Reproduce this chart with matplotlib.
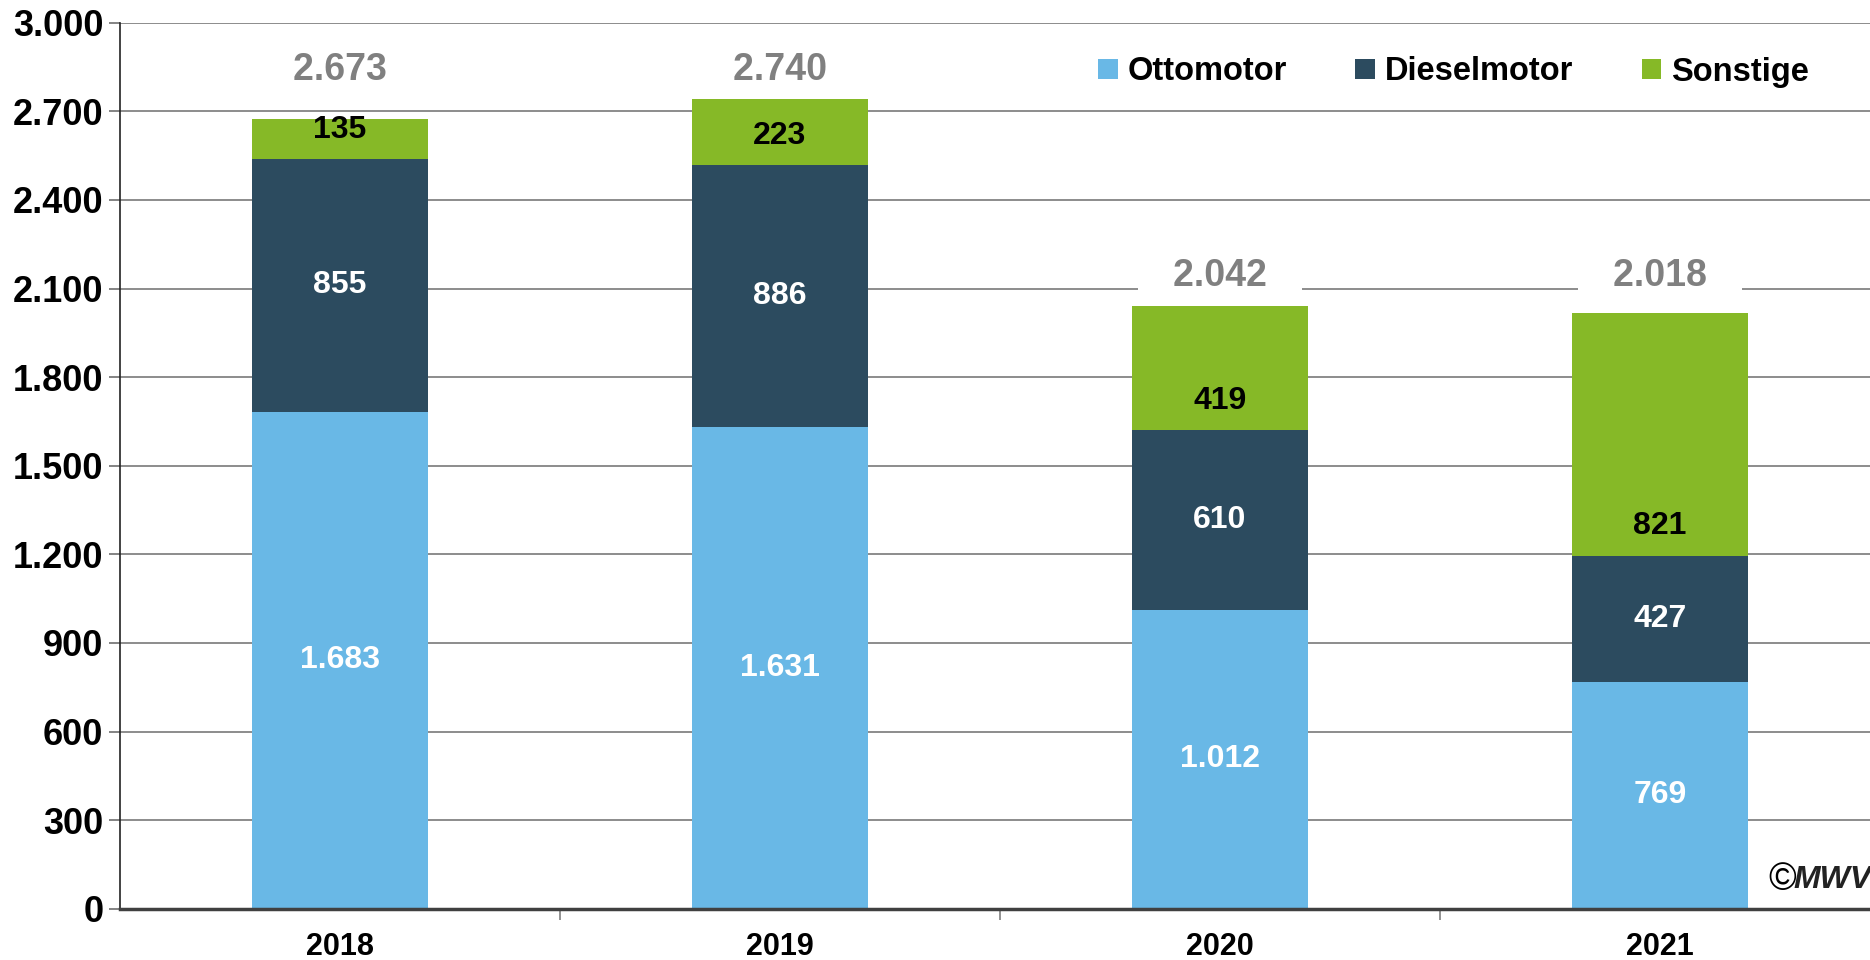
import matplotlib
matplotlib.use("Agg")
import matplotlib.pyplot as plt
from matplotlib.patches import Patch
from matplotlib.ticker import FixedLocator, FuncFormatter

plt.rcParams['font.family'] = ['Liberation Sans', 'DejaVu Sans']
plt.rcParams['font.weight'] = 'bold'

years = ['2018', '2019', '2020', '2021']
otto = [1683, 1631, 1012, 769]
diesel = [855, 886, 610, 427]
sonstige = [135, 223, 419, 821]
totals = [2673, 2740, 2042, 2018]
series_names = ['Ottomotor', 'Dieselmotor', 'Sonstige']
colors = ['#69B8E6', '#2C4B5F', '#86B927']
yticks = list(range(0, 3001, 300))

def fmt(v):
    return f"{int(v):,}".replace(',', '.')

fig = plt.figure(figsize=(18.7, 9.6), dpi=100)
ax = fig.add_axes([120/1870, 1-908.8/960, 1760/1870, (908.8-22.7)/960])

x = list(range(len(years)))
w = 0.4
ax.bar(x, otto, w, color=colors[0], zorder=3)
ax.bar(x, diesel, w, bottom=otto, color=colors[1], zorder=3)
base3 = [o + d for o, d in zip(otto, diesel)]
ax.bar(x, sonstige, w, bottom=base3, color=colors[2], zorder=3)

ax.set_xlim(-0.5, 3.5)
ax.set_ylim(0, 3000)
ax.yaxis.set_major_locator(FixedLocator(yticks))
ax.yaxis.set_major_formatter(FuncFormatter(lambda v, p: fmt(v)))
ax.grid(axis='y', color='#6e6e6e', linewidth=1.1, zorder=0)
ax.set_axisbelow(True)

ax.set_xticks(x)
ax.set_xticklabels(years)
ax.set_xticks([0.5, 1.5, 2.5], minor=True)
ax.tick_params(axis='x', which='major', length=0, pad=17, labelsize=22)
ax.tick_params(axis='x', which='minor', length=8, width=1.2, color='#7f7f7f', direction='out')
ax.tick_params(axis='y', length=8, width=1.2, color='#6e6e6e', pad=4, labelsize=26)
for lab in ax.get_xticklabels() + ax.get_yticklabels():
    lab.set_fontweight('bold')

for s in ['top', 'right']:
    ax.spines[s].set_visible(False)
ax.spines['left'].set_color('#222222')
ax.spines['left'].set_linewidth(1.2)
ax.spines['bottom'].set_color('#404040')
ax.spines['bottom'].set_linewidth(2.5)
ax.spines['bottom'].set_zorder(4)

# segment labels
for i in x:
    ax.text(i, otto[i] / 2, fmt(otto[i]), ha='center', va='center',
            color='white', fontsize=23, fontweight='bold', zorder=5)
    ax.text(i, otto[i] + diesel[i] / 2, fmt(diesel[i]), ha='center', va='center',
            color='white', fontsize=23, fontweight='bold', zorder=5)
    ax.annotate(fmt(sonstige[i]), (i, base3[i]), xytext=(0, 21), textcoords='offset points',
                ha='center', va='center', color='black', fontsize=23, fontweight='bold', zorder=5)

# totals (pairs share a height)
for i in x:
    pair = totals[(i // 2) * 2:(i // 2) * 2 + 2]
    ax.annotate('   ' + fmt(totals[i]) + '   ', (i, max(pair)), xytext=(0, 21),
                textcoords='offset points',
                ha='center', va='center', color='#808080', fontsize=27, fontweight='bold',
                zorder=2, bbox=dict(boxstyle='square,pad=0.1', fc='white', ec='none'))

handles = [Patch(facecolor=c, edgecolor='none') for c in colors]
leg = ax.legend(handles, series_names, ncol=3, loc='center left',
                bbox_to_anchor=(1098/1870, 1-72/960), bbox_transform=fig.transFigure,
                frameon=False, fontsize=23.5, handlelength=0.6, handleheight=0.6,
                handletextpad=0.3, columnspacing=2.1, borderaxespad=0, borderpad=0)
for t in leg.get_texts():
    t.set_fontweight('bold')

fig.text(1768/1870, 1-880/960, '©', fontsize=27, ha='left', va='center', color='black',
         fontweight='normal')
fig.text(1793/1870, 1-880/960, 'MWV', fontsize=23, ha='left', va='center', color='#222222',
         fontweight='bold', fontstyle='italic')

fig.savefig('out.png', dpi=100)
